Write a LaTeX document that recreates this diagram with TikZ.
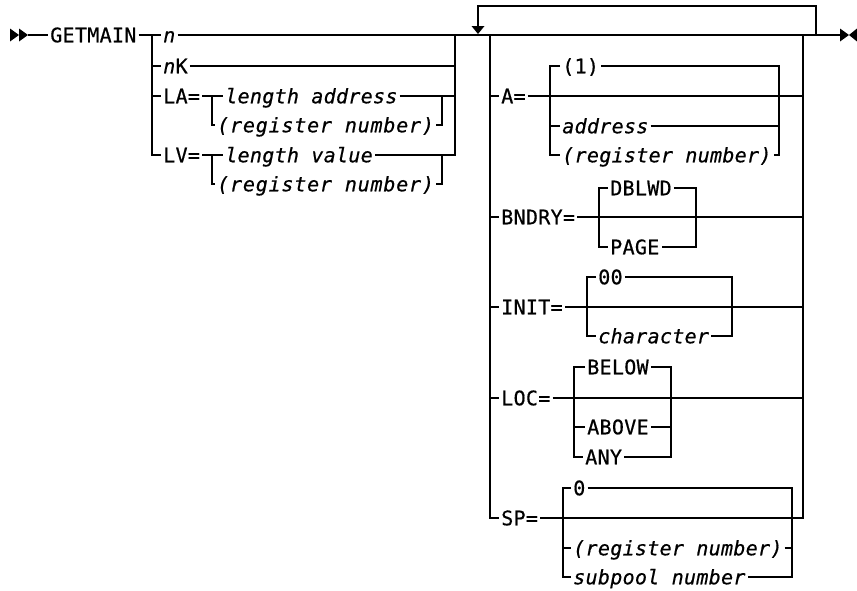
\documentclass[tikz,border=0pt]{standalone}
\usepackage{fontspec}
\usetikzlibrary{calc}
\newfontfamily\rrfont[LetterSpace=1.5,FakeBold=0.6,ItalicFont={DejaVu Sans Mono Oblique}]{DejaVu Sans Mono}
\newfontfamily\rrwide[LetterSpace=4,FakeBold=0.6,ItalicFont={DejaVu Sans Mono Oblique}]{DejaVu Sans Mono}
\begin{document}
\begin{tikzpicture}[x=0.75pt,y=-0.75pt,
  rail/.style={line width=1.5pt, line join=miter, line cap=butt},
  lbl/.style={anchor=west, inner xsep=1.5pt, inner ysep=0pt, text height=10.9pt, text depth=0pt, font=\fontsize{15pt}{17pt}\rrfont},
  var/.style={lbl, font=\fontsize{15pt}{17pt}\rrfont\itshape},
  varw/.style={lbl, font=\fontsize{15pt}{17pt}\rrwide\itshape},
  tipfill/.style={fill=black, draw=none}]
\useasboundingbox (0,0) rectangle (857,590);

% ---------- start / end markers
\coordinate (start) at (28,35);
\fill[tipfill] (10,28.5) -- (19,35) -- (10,41.5) -- cycle;
\fill[tipfill] (19,28.5) -- (28,35) -- (19,41.5) -- cycle;
\coordinate (endp) at (840,35);
\fill[tipfill] (endp) ++(0,-6.5) -- ++(9,6.5) -- ++(-9,6.5) -- cycle;
\fill[tipfill] (857,28.5) -- (849,35) -- (857,41.5) -- cycle;

% ---------- group 1
\node[lbl] (getmain) at (48,35) {GETMAIN};
\node[var] (n)  at (161,35) {n};
\node[lbl] (nk) at (161,66) {\textit{n}K};
\node[lbl] (la) at (161,96) {LA=};
\node[var] (laddr) at (223,96) {length address};
\node[varw] (lareg) at (215,125) {(register number)};
\node[lbl] (lv) at (161,155) {LV=};
\node[var] (lval) at (223,155) {length value};
\node[varw] (lvreg) at (215,184) {(register number)};

\coordinate (g1L) at (152,35);
\coordinate (g1R) at (455,35);
\coordinate (laL) at (212,96);
\coordinate (laR) at (442,96);
\coordinate (lvL) at (212,155);
\coordinate (lvR) at (442,155);

\draw[rail] (start) -- (getmain.west);
\draw[rail] (getmain.east) -- (n.west);
\draw[rail] (n.east) -- (g1R);
\draw[rail] (g1L) |- (lv.west);
\draw[rail] (g1L |- nk.west) -- (nk.west);
\draw[rail] (nk.east) -- (g1R |- nk.east);
\draw[rail] (g1L |- la.west) -- (la.west);
\draw[rail] (la.east) -- (laddr.west);
\draw[rail] (laL) |- (lareg.west);
\draw[rail] (laddr.east) -- (g1R |- laddr.east);
\draw[rail] (lareg.east) -| (laR);
\draw[rail] (lv.east) -- (lval.west);
\draw[rail] (lvL) |- (lvreg.west);
\draw[rail] (lvreg.east) -| (lvR);
\draw[rail] (lval.east) -- (g1R |- lval.east) -- (g1R);

% ---------- main line and loop
\coordinate (g2L) at (490,35);
\coordinate (g2R) at (803,35);
\coordinate (loopR) at (816,35);
\coordinate (loopL) at (478,35);
\draw[rail] (g1R) -- (endp);
\draw[rail] (loopR) -- ++(0,-29) -| ($(loopL)+(0,-7)$);
\fill[tipfill] ($(loopL)+(0,-1)$) -- ++(-6.5,-8) -- ++(13,0) -- cycle;

% ---------- group 2 labels
\node[lbl] (a)     at (499,96)  {A=};
\node[lbl] (bnd)   at (499,217) {BNDRY=};
\node[lbl] (init)  at (499,307) {INIT=};
\node[lbl] (loc)   at (499,398) {LOC=};
\node[lbl] (sp)    at (499,518) {SP=};

\draw[rail] (g2L) |- (sp.west);
\draw[rail] (g2L |- a.west) -- (a.west);
\draw[rail] (g2L |- bnd.west) -- (bnd.west);
\draw[rail] (g2L |- init.west) -- (init.west);
\draw[rail] (g2L |- loc.west) -- (loc.west);
\draw[rail] (a.east) -- (g2R |- a.east);
\draw[rail] (bnd.east) -- (g2R |- bnd.east);
\draw[rail] (init.east) -- (g2R |- init.east);
\draw[rail] (loc.east) -- (g2R |- loc.east);
\draw[rail] (sp.east) -| (g2R);

% A=
\coordinate (aL) at (550,96);
\coordinate (aR) at (779,96);
\node[lbl] (a1)    at (560,66)  {(1)};
\node[var] (aaddr) at (560,126) {address};
\node[var] (areg)  at (560,155) {(register number)};
\draw[rail] (a1.west) -| (aL) |- (areg.west);
\draw[rail] (aL |- aaddr.west) -- (aaddr.west);
\draw[rail] (a1.east) -| (aR) |- (areg.east);
\draw[rail] (aaddr.east) -- (aR |- aaddr.east);

% BNDRY=
\coordinate (bL) at (599,217);
\coordinate (bR) at (696,217);
\node[lbl] (dbl)  at (608,188) {DBLWD};
\node[lbl] (page) at (608,247) {PAGE};
\draw[rail] (dbl.west) -| (bL) |- (page.west);
\draw[rail] (dbl.east) -| (bR) |- (page.east);

% INIT=
\coordinate (iL) at (587,307);
\coordinate (iR) at (732,307);
\node[lbl] (zz)   at (596,277) {00};
\node[var] (chr)  at (596,336) {character};
\draw[rail] (zz.west) -| (iL) |- (chr.west);
\draw[rail] (zz.east) -| (iR) |- (chr.east);

% LOC=
\coordinate (lL) at (574,398);
\coordinate (lR) at (671,398);
\node[lbl] (below) at (585,367) {BELOW};
\node[lbl] (above) at (585,427) {ABOVE};
\node[lbl] (any)   at (583,457) {ANY};
\draw[rail] (below.west) -| (lL) |- (any.west);
\draw[rail] (lL |- above.west) -- (above.west);
\draw[rail] (below.east) -| (lR) |- (any.east);
\draw[rail] (above.east) -- (lR |- above.east);

% SP=
\coordinate (sL) at (563,518);
\coordinate (sR) at (792,518);
\node[lbl] (zero) at (571,488) {0};
\node[var] (sreg) at (571,548) {(register number)};
\node[var] (subp) at (571,577) {subpool number};
\draw[rail] (zero.west) -| (sL) |- (subp.west);
\draw[rail] (sL |- sreg.west) -- (sreg.west);
\draw[rail] (zero.east) -| (sR) |- (subp.east);
\draw[rail] (sreg.east) -- (sR |- sreg.east);
\end{tikzpicture}
\end{document}
